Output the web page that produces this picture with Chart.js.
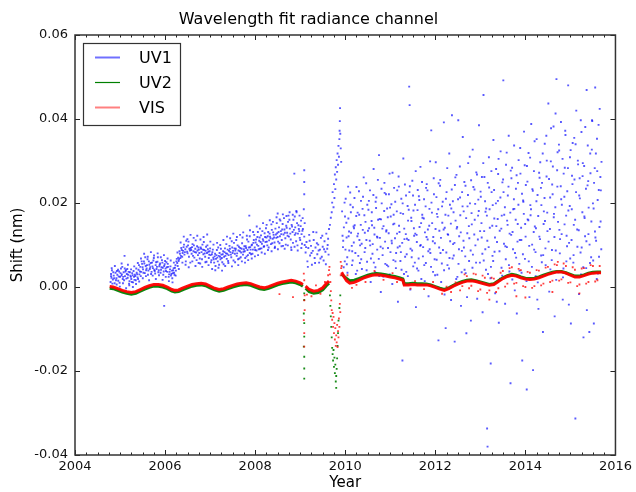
<!DOCTYPE html>
<html>
<head>
<meta charset="utf-8">
<script src="https://cdn.jsdelivr.net/npm/chart.js@4.4.1/dist/chart.umd.min.js"></script>
<style>
  html, body { margin: 0; padding: 0; background: #fff; }
  #wrap { width: 636px; height: 492px; }
</style>
</head>
<body>
<div id="wrap"><canvas id="chart" width="636" height="492"></canvas></div>
<script>
// Séries : [année, décalage (nm)]
const seriesNames = ['UV1', 'UV2', 'VIS'];
const xTicks = [2004, 2006, 2008, 2010, 2012, 2014, 2016];
const yTicks = [-0.04, -0.02, 0.00, 0.02, 0.04, 0.06];

const uv1Early = [
  [2004.79,0.0012],[2004.80,0.0031],[2004.81,0.0022],[2004.82,0.0040],[2004.84,0.0018],[2004.86,0.0027],[2004.88,0.0009],[2004.90,0.0034],
  [2004.92,0.0021],[2004.94,0.0029],[2004.96,0.0015],[2004.98,0.0037],[2005.00,0.0024],[2005.02,0.0044],[2005.04,0.0030],[2005.06,0.0019],
  [2005.08,0.0035],[2005.10,0.0074],[2005.11,0.0026],[2005.13,0.0040],[2005.15,0.0031],[2005.17,0.0022],[2005.19,0.0036],[2005.21,0.0014],
  [2005.23,0.0027],[2005.25,0.0019],[2005.27,0.0033],[2005.29,0.0011],[2005.31,0.0024],[2005.33,0.0029],[2005.35,0.0016],[2005.37,0.0034],
  [2005.39,0.0023],[2005.41,0.0041],[2005.43,0.0030],[2005.45,0.0048],[2005.47,0.0036],[2005.49,0.0055],[2005.51,0.0042],[2005.53,0.0061],
  [2005.55,0.0033],[2005.57,0.0050],[2005.59,0.0044],[2005.61,0.0066],[2005.63,0.0039],[2005.65,0.0053],[2005.67,0.0047],[2005.69,0.0031],
  [2005.71,0.0058],[2005.73,0.0045],[2005.75,0.0069],[2005.77,0.0038],[2005.79,0.0052],[2005.81,0.0043],[2005.83,0.0060],[2005.85,0.0035],
  [2005.87,0.0049],[2005.89,0.0056],[2005.91,0.0041],[2005.93,0.0064],[2005.95,0.0046],[2005.97,0.0037],[2005.98,-0.0045],[2005.99,0.0054],
  [2006.01,0.0044],[2006.03,0.0059],[2006.05,0.0036],[2006.07,0.0048],[2006.09,0.0030],[2006.11,0.0042],[2006.13,0.0027],[2006.15,0.0039],
  [2006.17,0.0033],[2006.19,0.0045],[2006.21,0.0029],[2006.23,0.0052],[2006.25,0.0061],[2006.27,0.0057],[2006.29,0.0070],[2006.31,0.0066],
  [2006.33,0.0079],[2006.35,0.0074],[2006.37,0.0088],[2006.39,0.0081],[2006.41,0.0095],[2006.43,0.0077],[2006.45,0.0090],[2006.47,0.0110],
  [2006.49,0.0084],[2006.51,0.0099],[2006.53,0.0072],[2006.55,0.0087],[2006.57,0.0093],[2006.59,0.0079],[2006.61,0.0102],[2006.63,0.0085],
  [2006.65,0.0070],[2006.67,0.0091],[2006.69,0.0082],[2006.71,0.0097],[2006.73,0.0076],[2006.75,0.0089],[2006.77,0.0068],[2006.79,0.0094],
  [2006.81,0.0083],[2006.83,0.0101],[2006.85,0.0078],[2006.87,0.0088],[2006.89,0.0072],[2006.91,0.0096],[2006.93,0.0081],[2006.95,0.0090],
  [2006.97,0.0069],[2006.99,0.0085],[2007.01,0.0076],[2007.03,0.0064],[2007.05,0.0083],[2007.07,0.0070],[2007.09,0.0058],[2007.11,0.0079],
  [2007.13,0.0067],[2007.15,0.0088],[2007.17,0.0061],[2007.19,0.0074],[2007.21,0.0081],[2007.23,0.0066],[2007.25,0.0077],[2007.27,0.0059],
  [2007.29,0.0085],[2007.31,0.0072],[2007.33,0.0092],[2007.35,0.0080],[2007.37,0.0067],[2007.39,0.0089],[2007.41,0.0076],[2007.43,0.0098],
  [2007.45,0.0083],[2007.47,0.0071],[2007.49,0.0094],[2007.51,0.0086],[2007.53,0.0105],[2007.55,0.0079],[2007.57,0.0091],[2007.59,0.0074],
  [2007.61,0.0099],[2007.63,0.0087],[2007.65,0.0068],[2007.67,0.0093],[2007.69,0.0082],[2007.71,0.0104],[2007.73,0.0077],[2007.75,0.0090],
  [2007.77,0.0085],[2007.79,0.0097],[2007.81,0.0073],[2007.83,0.0088],[2007.85,0.0108],[2007.87,0.0170],[2007.88,0.0081],[2007.89,0.0095],
  [2007.91,0.0078],[2007.93,0.0101],[2007.95,0.0089],[2007.97,0.0112],[2007.99,0.0094],[2008.01,0.0106],[2008.03,0.0087],[2008.05,0.0119],
  [2008.07,0.0098],[2008.09,0.0110],[2008.11,0.0091],[2008.13,0.0123],[2008.15,0.0103],[2008.17,0.0114],[2008.19,0.0096],[2008.21,0.0128],
  [2008.23,0.0107],[2008.25,0.0118],[2008.27,0.0099],[2008.29,0.0131],[2008.31,0.0111],[2008.33,0.0120],[2008.35,0.0102],[2008.37,0.0136],
  [2008.39,0.0115],[2008.41,0.0124],[2008.43,0.0106],[2008.45,0.0139],[2008.47,0.0117],[2008.49,0.0128],[2008.50,0.0175],[2008.51,0.0108],
  [2008.53,0.0142],[2008.55,0.0121],[2008.57,0.0133],[2008.59,0.0112],[2008.61,0.0150],[2008.63,0.0125],[2008.65,0.0137],[2008.67,0.0116],
  [2008.69,0.0146],[2008.71,0.0129],[2008.73,0.0155],[2008.75,0.0120],[2008.77,0.0139],[2008.79,0.0113],[2008.81,0.0148],[2008.83,0.0131],
  [2008.85,0.0160],[2008.87,0.0270],[2008.88,0.0124],[2008.89,0.0142],[2008.91,0.0109],[2008.93,0.0152],[2008.95,0.0127],[2008.97,0.0138],
  [2008.99,0.0117],[2009.01,0.0145],[2009.03,0.0126],[2009.05,0.0134]
];

const uv1EarlyB = [
  [2004.80,0.0026],[2004.83,0.0008],[2004.85,0.0035],[2004.87,0.0021],[2004.91,0.0016],[2004.93,0.0038],[2004.97,0.0025],[2004.99,0.0010],
  [2005.01,0.0033],[2005.03,0.0027],[2005.05,0.0048],[2005.07,0.0024],[2005.09,0.0016],[2005.12,0.0037],[2005.14,0.0020],[2005.16,0.0043],
  [2005.18,0.0029],[2005.20,0.0008],[2005.22,0.0035],[2005.24,0.0024],[2005.26,0.0012],[2005.28,0.0028],[2005.30,0.0038],[2005.32,0.0017],
  [2005.34,0.0026],[2005.36,0.0044],[2005.38,0.0030],[2005.40,0.0019],[2005.42,0.0052],[2005.44,0.0037],[2005.46,0.0026],[2005.48,0.0061],
  [2005.50,0.0047],[2005.52,0.0034],[2005.54,0.0056],[2005.56,0.0071],[2005.58,0.0040],[2005.60,0.0052],[2005.62,0.0029],[2005.64,0.0061],
  [2005.66,0.0043],[2005.68,0.0057],[2005.70,0.0036],[2005.72,0.0049],[2005.74,0.0063],[2005.76,0.0041],[2005.78,0.0032],[2005.80,0.0059],
  [2005.82,0.0048],[2005.84,0.0071],[2005.86,0.0040],[2005.88,0.0053],[2005.90,0.0034],[2005.92,0.0047],[2005.94,0.0058],[2005.96,0.0029],
  [2005.98,0.0050],[2006.00,0.0062],[2006.02,0.0038],[2006.04,0.0047],[2006.06,0.0055],[2006.08,0.0024],[2006.10,0.0036],[2006.12,0.0049],
  [2006.14,0.0031],[2006.16,0.0021],[2006.18,0.0040],[2006.20,0.0034],[2006.22,0.0046],[2006.24,0.0039],[2006.26,0.0067],[2006.28,0.0050],
  [2006.30,0.0062],[2006.32,0.0085],[2006.34,0.0069],[2006.36,0.0093],[2006.38,0.0072],[2006.40,0.0086],[2006.42,0.0101],[2006.44,0.0083],
  [2006.46,0.0061],[2006.48,0.0096],[2006.50,0.0080],[2006.52,0.0108],[2006.54,0.0091],[2006.56,0.0058],[2006.58,0.0088],[2006.60,0.0095],
  [2006.62,0.0074],[2006.64,0.0099],[2006.66,0.0083],[2006.68,0.0111],[2006.70,0.0064],[2006.72,0.0087],[2006.74,0.0094],[2006.76,0.0081],
  [2006.78,0.0056],[2006.80,0.0091],[2006.82,0.0066],[2006.84,0.0089],[2006.86,0.0107],[2006.88,0.0080],[2006.90,0.0086],[2006.92,0.0060],
  [2006.94,0.0099],[2006.96,0.0084],[2006.98,0.0077],[2007.00,0.0092],[2007.02,0.0059],[2007.04,0.0078],[2007.06,0.0089],[2007.08,0.0066],
  [2007.10,0.0073],[2007.12,0.0050],[2007.14,0.0076],[2007.16,0.0070],[2007.18,0.0094],[2007.20,0.0053],[2007.22,0.0072],[2007.24,0.0091],
  [2007.26,0.0069],[2007.28,0.0078],[2007.30,0.0054],[2007.32,0.0083],[2007.34,0.0074],[2007.36,0.0102],[2007.38,0.0079],[2007.40,0.0062],
  [2007.42,0.0086],[2007.44,0.0091],[2007.46,0.0077],[2007.48,0.0109],[2007.50,0.0081],[2007.52,0.0063],[2007.54,0.0092],[2007.56,0.0087],
  [2007.58,0.0112],[2007.60,0.0080],[2007.62,0.0066],[2007.64,0.0096],[2007.66,0.0085],[2007.68,0.0071],[2007.70,0.0091],[2007.72,0.0118],
  [2007.74,0.0084],[2007.76,0.0097],[2007.78,0.0069],[2007.80,0.0093],[2007.82,0.0113],[2007.84,0.0076],[2007.86,0.0094],[2007.88,0.0121],
  [2007.90,0.0089],[2007.92,0.0099],[2007.94,0.0079],[2007.96,0.0105],[2007.98,0.0124],[2008.00,0.0088],[2008.02,0.0113],[2008.04,0.0101],
  [2008.06,0.0131],[2008.08,0.0090],[2008.10,0.0118],[2008.12,0.0107],[2008.14,0.0092],[2008.16,0.0133],[2008.18,0.0110],[2008.20,0.0097],
  [2008.22,0.0119],[2008.24,0.0140],[2008.26,0.0108],[2008.28,0.0121],[2008.30,0.0094],[2008.32,0.0127],[2008.34,0.0116],[2008.36,0.0149],
  [2008.38,0.0104],[2008.40,0.0130],[2008.42,0.0118],[2008.44,0.0096],[2008.46,0.0125],[2008.48,0.0152],[2008.50,0.0119],[2008.52,0.0131],
  [2008.54,0.0104],[2008.56,0.0158],[2008.58,0.0126],[2008.60,0.0137],[2008.62,0.0098],[2008.64,0.0164],[2008.66,0.0129],[2008.68,0.0101],
  [2008.70,0.0141],[2008.72,0.0122],[2008.74,0.0170],[2008.76,0.0160],[2008.78,0.0127],[2008.80,0.0094],[2008.82,0.0144],[2008.84,0.0105],
  [2008.86,0.0136],[2008.88,0.0168],[2008.90,0.0128],[2008.92,0.0178],[2008.94,0.0099],[2008.96,0.0147],[2008.98,0.0133],[2009.00,0.0112],
  [2009.02,0.0158],[2009.04,0.0103],[2009.06,0.0138]
];

// bords du nuage UV1 avant 2009
const uv1EarlyC = [
  [2004.815,0.0045],[2004.845,-0.0002],[2004.885,0.0050],[2004.925,0.0006],[2004.955,0.0041],[2004.995,0.0001],[2005.035,0.0056],[2005.065,0.0009],
  [2005.105,0.0044],[2005.135,-0.0003],[2005.175,0.0053],[2005.205,0.0004],[2005.245,0.0042],[2005.285,0.0000],[2005.315,0.0049],[2005.355,0.0007],
  [2005.395,0.0057],[2005.425,0.0013],[2005.465,0.0068],[2005.505,0.0021],[2005.535,0.0079],[2005.575,0.0026],[2005.615,0.0072],[2005.645,0.0016],
  [2005.685,0.0083],[2005.725,0.0027],[2005.755,0.0075],[2005.795,0.0019],[2005.835,0.0080],[2005.865,0.0028],[2005.905,0.0071],[2005.945,0.0017],
  [2005.975,0.0076],[2006.015,0.0024],[2006.055,0.0068],[2006.085,0.0014],[2006.125,0.0063],[2006.165,0.0011],[2006.195,0.0058],[2006.235,0.0027],
  [2006.275,0.0082],[2006.305,0.0043],[2006.345,0.0106],[2006.385,0.0058],[2006.415,0.0120],[2006.455,0.0053],[2006.495,0.0114],[2006.525,0.0047],
  [2006.565,0.0124],[2006.605,0.0061],[2006.635,0.0117],[2006.675,0.0050],[2006.715,0.0122],[2006.745,0.0057],[2006.785,0.0113],[2006.825,0.0048],
  [2006.855,0.0119],[2006.895,0.0059],[2006.935,0.0125],[2006.965,0.0052],[2007.005,0.0108],[2007.045,0.0043],[2007.075,0.0101],[2007.115,0.0040],
  [2007.155,0.0105],[2007.185,0.0046],[2007.225,0.0100],[2007.265,0.0039],[2007.295,0.0112],[2007.335,0.0050],[2007.375,0.0120],[2007.405,0.0057],
  [2007.445,0.0116],[2007.485,0.0049],[2007.515,0.0127],[2007.555,0.0059],[2007.595,0.0119],[2007.625,0.0052],[2007.665,0.0124],[2007.705,0.0061],
  [2007.735,0.0130],[2007.775,0.0058],[2007.815,0.0122],[2007.845,0.0064],[2007.885,0.0135],[2007.925,0.0068],[2007.955,0.0131],[2007.995,0.0073],
  [2008.035,0.0144],[2008.065,0.0076],[2008.105,0.0139],[2008.145,0.0082],[2008.175,0.0152],[2008.215,0.0079],[2008.255,0.0148],[2008.285,0.0088],
  [2008.325,0.0159],[2008.365,0.0085],[2008.395,0.0155],[2008.435,0.0093],[2008.475,0.0166],[2008.505,0.0090],[2008.545,0.0161],[2008.585,0.0097],
  [2008.615,0.0173],[2008.655,0.0091],[2008.695,0.0169],[2008.725,0.0099],[2008.765,0.0178],[2008.805,0.0088],[2008.835,0.0172],[2008.875,0.0096],
  [2008.915,0.0181],[2008.945,0.0087],[2008.985,0.0170],[2009.025,0.0093],[2009.055,0.0164]
];

const uv1Spikes = [
  [2009.09,0.0278],[2009.09,0.0250],[2009.09,0.0221],[2009.08,0.0185],[2009.10,0.0152],[2009.09,0.0120],[2009.10,0.0100],
  [2009.12,0.0082],[2009.14,0.0107],[2009.16,0.0061],[2009.18,0.0093],[2009.20,0.0124],[2009.22,0.0075],[2009.24,0.0098],[2009.26,0.0053],
  [2009.28,0.0086],[2009.30,0.0112],[2009.32,0.0069],[2009.34,0.0094],[2009.36,0.0130],[2009.38,0.0078],[2009.40,0.0101],[2009.42,0.0058],
  [2009.44,0.0089],[2009.46,0.0117],[2009.48,0.0072],[2009.50,0.0096],[2009.52,0.0063],[2009.54,0.0109],[2009.56,0.0084],[2009.58,0.0127],
  [2009.60,0.0091],[2009.62,0.0115],[2009.64,0.0138],
  [2009.13,0.0095],[2009.17,0.0048],[2009.21,0.0110],[2009.25,0.0081],[2009.29,0.0131],[2009.33,0.0057],[2009.37,0.0104],[2009.41,0.0087],
  [2009.45,0.0068],[2009.49,0.0122],[2009.53,0.0090],[2009.57,0.0054],[2009.61,0.0100],[2009.63,0.0077],
  [2009.66,0.0148],[2009.68,0.0165],[2009.70,0.0178],[2009.71,0.0201],[2009.72,0.0226],[2009.74,0.0190],[2009.75,0.0245],[2009.76,0.0212],
  [2009.77,0.0268],[2009.78,0.0233],[2009.79,0.0285],[2009.80,0.0256],[2009.81,0.0302],[2009.82,0.0274],[2009.83,0.0318],[2009.84,0.0291],
  [2009.85,0.0336],[2009.86,0.0310],[2009.87,0.0352],[2009.875,0.0372],[2009.88,0.0395],[2009.885,0.0426],[2009.89,0.0365],[2009.90,0.0330],
  [2009.91,0.0298]
];

const uv1Late = [
  [2009.93,0.0180],[2009.95,0.0095],[2009.97,0.0142],[2009.99,0.0061],[2010.01,0.0210],[2010.03,0.0118],[2010.05,0.0034],[2010.07,0.0163],
  [2010.09,0.0087],[2010.11,0.0225],[2010.13,0.0129],[2010.15,0.0052],[2010.17,0.0190],[2010.19,0.0106],[2010.21,0.0147],[2010.23,0.0016],
  [2010.25,0.0238],[2010.27,0.0121],[2010.29,0.0074],[2010.31,0.0172],[2010.33,0.0099],[2010.35,0.0205],[2010.37,0.0043],[2010.39,0.0136],
  [2010.41,0.0261],[2010.43,0.0083],[2010.45,0.0155],[2010.47,0.0112],[2010.49,0.0196],[2010.51,0.0028],[2010.53,0.0140],[2010.55,0.0230],
  [2010.57,0.0068],[2010.59,0.0178],[2010.61,0.0102],[2010.63,0.0281],[2010.65,0.0125],[2010.67,0.0047],[2010.69,0.0213],[2010.71,0.0089],
  [2010.73,0.0160],[2010.75,0.0314],[2010.77,0.0117],[2010.79,-0.0012],[2010.81,0.0199],[2010.83,0.0076],[2010.85,0.0145],[2010.87,0.0248],
  [2010.89,0.0055],[2010.91,0.0132],[2010.93,0.0187],[2010.95,0.0093],[2010.97,0.0221],[2010.99,0.0030],[2011.01,0.0168],[2011.03,0.0110],
  [2011.05,0.0272],[2011.07,0.0064],[2011.09,0.0151],[2011.11,0.0203],[2011.13,0.0081],[2011.15,0.0127],[2011.17,-0.0035],[2011.19,0.0239],
  [2011.21,0.0097],[2011.23,0.0176],[2011.25,0.0041],[2011.27,-0.0175],[2011.29,0.0306],[2011.31,0.0139],[2011.33,0.0072],[2011.35,0.0218],
  [2011.37,0.0115],[2011.39,0.0026],[2011.41,0.0184],[2011.42,0.0477],[2011.43,0.0433],[2011.45,0.0091],[2011.47,0.0157],[2011.49,0.0253],
  [2011.51,0.0049],[2011.53,0.0122],[2011.55,0.0196],[2011.57,-0.0048],[2011.59,0.0107],[2011.61,0.0231],[2011.63,0.0068],[2011.65,0.0143],
  [2011.67,0.0286],[2011.69,0.0019],[2011.71,0.0172],[2011.73,0.0095],[2011.75,0.0209],[2011.77,0.0130],[2011.79,0.0057],[2011.81,0.0245],
  [2011.83,0.0113],[2011.85,-0.0022],[2011.87,0.0186],[2011.89,0.0081],[2011.91,0.0373],[2011.93,0.0152],[2011.95,0.0036],[2011.97,0.0221],
  [2011.99,0.0104],[2012.01,0.0297],[2012.03,0.0065],[2012.05,0.0167],[2012.07,-0.0127],[2012.09,0.0134],[2012.11,0.0255],[2012.13,0.0012],
  [2012.15,0.0192],[2012.17,0.0088],[2012.19,0.0392],[2012.21,0.0141],[2012.23,-0.0098],[2012.25,0.0226],[2012.27,0.0052],[2012.29,0.0170],
  [2012.31,0.0318],[2012.33,0.0109],[2012.35,-0.0031],[2012.37,0.0409],[2012.39,0.0204],[2012.41,0.0075],[2012.43,-0.0130],[2012.45,0.0158],
  [2012.47,0.0267],[2012.49,0.0024],[2012.51,0.0397],[2012.53,0.0121],[2012.55,0.0213],[2012.57,-0.0045],[2012.59,0.0086],[2012.61,0.0357],
  [2012.63,0.0180],[2012.65,0.0041],[2012.67,0.0241],[2012.69,-0.0110],[2012.71,0.0128],[2012.73,0.0295],[2012.75,0.0062],[2012.77,0.0199],
  [2012.79,-0.0080],[2012.81,0.0149],[2012.83,0.0327],[2012.85,0.0015],[2012.87,0.0232],[2012.89,0.0099],[2012.91,0.0273],[2012.93,-0.0028],
  [2012.95,0.0170],[2012.97,0.0385],[2012.99,0.0058],[2013.01,0.0215],[2013.03,0.0118],[2013.05,-0.0060],[2013.07,0.0457],[2013.09,0.0262],
  [2013.11,0.0090],[2013.13,0.0187],[2013.15,-0.0337],[2013.16,-0.0380],[2013.17,0.0031],[2013.19,0.0309],[2013.21,0.0141],[2013.23,-0.0182],
  [2013.25,0.0226],[2013.27,0.0074],[2013.29,0.0350],[2013.31,0.0163],[2013.33,-0.0015],[2013.35,0.0281],[2013.37,0.0107],[2013.39,0.0205],
  [2013.41,-0.0085],[2013.43,0.0134],[2013.45,0.0323],[2013.47,0.0046],[2013.49,0.0249],[2013.51,0.0492],[2013.53,0.0172],[2013.55,-0.0040],
  [2013.57,0.0291],[2013.59,0.0095],[2013.61,0.0218],[2013.63,0.0360],[2013.65,0.0127],[2013.67,-0.0229],[2013.69,0.0259],[2013.71,0.0018],
  [2013.73,0.0185],[2013.75,0.0337],[2013.77,0.0081],[2013.79,0.0234],[2013.81,-0.0063],[2013.83,0.0150],[2013.85,0.0302],[2013.87,0.0039],
  [2013.89,0.0270],[2013.91,0.0112],[2013.93,-0.0175],[2013.95,0.0206],[2013.97,0.0370],[2013.99,0.0067],[2014.01,0.0243],[2014.03,-0.0244],
  [2014.05,0.0161],[2014.07,0.0319],[2014.09,-0.0024],[2014.11,0.0195],[2014.13,0.0388],[2014.15,0.0101],[2014.17,-0.0198],[2014.19,0.0276],
  [2014.21,0.0144],[2014.23,0.0026],[2014.25,0.0352],[2014.27,0.0219],[2014.29,-0.0052],[2014.31,0.0120],[2014.33,0.0297],[2014.35,0.0075],
  [2014.37,0.0248],[2014.39,-0.0107],[2014.41,0.0180],[2014.43,0.0341],[2014.45,0.0052],[2014.47,0.0263],[2014.49,0.0133],[2014.51,0.0437],
  [2014.53,-0.0011],[2014.55,0.0213],[2014.57,0.0378],[2014.59,0.0088],[2014.61,0.0287],[2014.63,0.0166],[2014.65,-0.0070],[2014.67,0.0413],
  [2014.69,0.0495],[2014.71,0.0239],[2014.73,0.0035],[2014.75,0.0325],[2014.77,0.0114],[2014.79,0.0393],[2014.81,0.0196],[2014.83,-0.0030],
  [2014.85,0.0270],[2014.87,0.0149],[2014.89,0.0362],[2014.91,0.0061],[2014.93,0.0228],[2014.95,0.0480],[2014.97,0.0105],[2014.99,0.0309],
  [2015.01,-0.0087],[2015.03,0.0185],[2015.05,0.0343],[2015.07,0.0076],[2015.09,0.0256],[2015.11,-0.0313],[2015.13,0.0420],[2015.15,0.0137],
  [2015.17,0.0292],[2015.19,-0.0017],[2015.21,0.0211],[2015.23,0.0397],[2015.25,0.0094],[2015.27,0.0264],[2015.29,-0.0120],[2015.31,0.0168],
  [2015.33,0.0381],[2015.35,0.0045],[2015.36,0.0469],[2015.38,0.0242],[2015.40,0.0126],[2015.42,-0.0107],[2015.44,0.0318],[2015.46,0.0071],
  [2015.48,0.0397],[2015.50,0.0199],[2015.52,-0.0087],[2015.54,0.0283],[2015.55,0.0475],[2015.57,0.0110],[2015.59,0.0353],[2015.61,0.0032],
  [2015.63,0.0231],[2015.65,0.0424],[2015.67,0.0156],[2015.69,0.0298]
];

const uv1LateB = [
  [2009.94,0.0122],[2009.965,0.0047],[2009.985,0.0201],[2010.005,0.0089],[2010.025,0.0153],[2010.045,0.0071],[2010.065,0.0239],[2010.085,0.0132],
  [2010.105,0.0015],[2010.125,0.0178],[2010.145,0.0098],[2010.165,0.0063],[2010.185,0.0144],[2010.205,0.0212],[2010.225,0.0081],[2010.245,0.0169],
  [2010.265,0.0039],[2010.285,0.0127],[2010.305,0.0228],[2010.325,0.0057],[2010.345,0.0148],[2010.365,0.0103],[2010.385,0.0186],[2010.405,0.0022],
  [2010.425,0.0171],[2010.445,0.0093],[2010.465,0.0247],[2010.485,0.0060],[2010.505,0.0134],[2010.525,0.0205],[2010.545,0.0110],[2010.565,0.0012],
  [2010.585,0.0157],[2010.605,0.0079],[2010.625,0.0219],[2010.645,0.0141],[2010.665,0.0035],[2010.685,0.0188],[2010.705,0.0120],[2010.725,0.0255],
  [2010.745,0.0067],[2010.765,0.0162],[2010.785,0.0096],[2010.805,0.0234],[2010.825,0.0139],[2010.845,0.0025],[2010.865,0.0181],[2010.885,0.0108],
  [2010.905,0.0221],[2010.925,0.0052],[2010.945,0.0166],[2010.965,0.0128],[2010.985,0.0270],[2011.005,0.0083],[2011.025,0.0197],[2011.045,0.0007],
  [2011.065,0.0149],[2011.085,0.0236],[2011.105,0.0116],[2011.125,0.0045],[2011.145,0.0180],[2011.165,0.0094],[2011.185,0.0263],[2011.205,0.0131],
  [2011.225,0.0062],[2011.245,0.0210],[2011.265,0.0105],[2011.285,0.0174],[2011.305,0.0031],[2011.325,0.0244],[2011.345,0.0126],[2011.365,0.0078],
  [2011.385,0.0193],[2011.405,0.0112],[2011.425,0.0226],[2011.445,-0.0006],[2011.465,0.0165],[2011.485,0.0087],[2011.505,0.0218],[2011.525,0.0140],
  [2011.545,0.0058],[2011.565,0.0276],[2011.585,0.0124],[2011.605,0.0183],[2011.625,0.0039],[2011.645,0.0207],[2011.665,0.0098],[2011.685,0.0152],
  [2011.705,0.0250],[2011.725,0.0073],[2011.745,0.0163],[2011.765,0.0014],[2011.785,0.0192],[2011.805,0.0119],[2011.825,0.0230],[2011.845,0.0085],
  [2011.865,0.0146],[2011.885,0.0299],[2011.905,0.0048],[2011.925,0.0177],[2011.945,0.0109],[2011.965,0.0259],[2011.985,0.0066],[2012.005,0.0138],
  [2012.025,0.0214],[2012.045,0.0029],[2012.065,0.0185],[2012.085,0.0094],[2012.105,0.0241],[2012.125,0.0117],[2012.145,0.0056],[2012.165,0.0203],
  [2012.185,0.0137],[2012.205,-0.0018],[2012.225,0.0172],[2012.245,0.0082],[2012.265,0.0283],[2012.285,0.0124],[2012.305,0.0044],[2012.325,0.0196],
  [2012.345,0.0151],[2012.365,0.0232],[2012.385,0.0068],[2012.405,0.0178],[2012.425,0.0105],[2012.445,0.0261],[2012.465,0.0019],[2012.485,0.0143],
  [2012.505,0.0209],[2012.525,0.0090],[2012.545,0.0287],[2012.565,0.0130],[2012.585,0.0035],[2012.605,0.0192],[2012.625,0.0110],[2012.645,0.0250],
  [2012.665,0.0073],[2012.685,0.0164],[2012.705,-0.0024],[2012.725,0.0219],[2012.745,0.0145],[2012.765,0.0310],[2012.785,0.0087],[2012.805,0.0176],
  [2012.825,0.0046],[2012.845,0.0238],[2012.865,0.0125],[2012.885,0.0198],[2012.905,0.0058],[2012.925,0.0268],[2012.945,0.0113],[2012.965,0.0181],
  [2012.985,0.0010],[2013.005,0.0227],[2013.025,0.0152],[2013.045,0.0079],[2013.065,0.0295],[2013.085,0.0133],[2013.105,0.0204],[2013.125,0.0041],
  [2013.145,0.0170],[2013.165,0.0248],[2013.185,0.0095],[2013.205,0.0185],[2013.225,0.0021],[2013.245,0.0276],[2013.265,0.0146],[2013.285,0.0062],
  [2013.305,0.0231],[2013.325,0.0118],[2013.345,0.0199],[2013.365,-0.0035],[2013.385,0.0162],[2013.405,0.0305],[2013.425,0.0085],[2013.445,0.0213],
  [2013.465,0.0139],[2013.485,0.0027],[2013.505,0.0256],[2013.525,0.0103],[2013.545,0.0190],[2013.565,0.0066],[2013.585,0.0320],[2013.605,0.0148],
  [2013.625,0.0239],[2013.645,0.0037],[2013.665,0.0177],[2013.685,0.0124],[2013.705,0.0284],[2013.725,0.0090],[2013.745,0.0209],[2013.765,-0.0008],
  [2013.785,0.0160],[2013.805,0.0266],[2013.825,0.0108],[2013.845,0.0196],[2013.865,0.0055],[2013.885,0.0331],[2013.905,0.0141],[2013.925,0.0222],
  [2013.945,0.0078],[2013.965,0.0174],[2013.985,0.0290],[2014.005,0.0120],[2014.025,0.0014],[2014.045,0.0251],[2014.065,0.0159],[2014.085,0.0098],
  [2014.105,0.0308],[2014.125,0.0185],[2014.145,0.0048],[2014.165,0.0229],[2014.185,0.0131],[2014.205,0.0347],[2014.225,0.0083],[2014.245,0.0204],
  [2014.265,-0.0030],[2014.285,0.0169],[2014.305,0.0272],[2014.325,0.0114],[2014.345,0.0236],[2014.365,0.0059],[2014.385,0.0318],[2014.405,0.0150],
  [2014.425,0.0212],[2014.445,0.0092],[2014.465,0.0360],[2014.485,0.0177],[2014.505,0.0031],[2014.525,0.0257],[2014.545,0.0138],[2014.565,0.0299],
  [2014.585,0.0064],[2014.605,0.0221],[2014.625,0.0382],[2014.645,0.0119],[2014.665,0.0190],[2014.685,0.0017],[2014.705,0.0278],[2014.725,0.0155],
  [2014.745,0.0339],[2014.765,0.0080],[2014.785,0.0240],[2014.805,0.0126],[2014.825,0.0305],[2014.845,0.0044],[2014.865,0.0215],[2014.885,0.0372],
  [2014.905,0.0170],[2014.925,0.0097],[2014.945,0.0283],[2014.965,-0.0042],[2014.985,0.0193],[2015.005,0.0326],[2015.025,0.0112],[2015.045,0.0245],
  [2015.065,0.0058],[2015.085,0.0355],[2015.105,0.0160],[2015.125,0.0226],[2015.145,0.0024],[2015.165,0.0301],[2015.185,0.0135],[2015.205,0.0259],
  [2015.225,0.0082],[2015.245,0.0369],[2015.265,0.0178],[2015.285,0.0047],[2015.305,0.0288],[2015.325,0.0121],[2015.345,0.0234],[2015.365,-0.0055],
  [2015.385,0.0337],[2015.405,0.0189],[2015.425,0.0101],[2015.445,0.0271],[2015.465,0.0156],[2015.485,0.0395],[2015.505,0.0063],[2015.525,0.0248],
  [2015.545,0.0132],[2015.565,0.0318],[2015.585,0.0019],[2015.605,0.0207],[2015.625,0.0386],[2015.645,0.0143],[2015.665,0.0262],[2015.685,0.0090]
];

// coeur dense du nuage UV1 après 2010
const uv1LateC = [
  [2009.955,0.0110],[2009.995,0.0168],[2010.035,0.0054],[2010.075,0.0121],[2010.115,0.0196],[2010.155,0.0085],[2010.195,0.0140],[2010.235,0.0031],
  [2010.275,0.0177],[2010.315,0.0112],[2010.355,0.0066],[2010.395,0.0215],[2010.435,0.0129],[2010.475,0.0040],[2010.515,0.0184],[2010.555,0.0099],
  [2010.595,0.0147],[2010.635,0.0058],[2010.675,0.0203],[2010.715,0.0118],[2010.755,0.0026],[2010.795,0.0161],[2010.835,0.0092],[2010.875,0.0224],
  [2010.915,0.0135],[2010.955,0.0049],[2010.995,0.0189],[2011.035,0.0104],[2011.075,0.0172],[2011.115,0.0061],[2011.155,0.0230],[2011.195,0.0146],
  [2011.235,0.0083],[2011.275,0.0199],[2011.315,0.0114],[2011.355,0.0036],[2011.395,0.0158],[2011.435,0.0240],[2011.475,0.0071],[2011.515,0.0182],
  [2011.555,0.0127],[2011.595,0.0044],[2011.635,0.0216],[2011.675,0.0100],[2011.715,0.0165],[2011.755,0.0052],[2011.795,0.0236],[2011.835,0.0137],
  [2011.875,0.0090],[2011.915,0.0201],[2011.955,0.0119],[2011.995,0.0028],[2012.035,0.0174],[2012.075,0.0247],[2012.115,0.0081],[2012.155,0.0153],
  [2012.195,0.0040],[2012.235,0.0210],[2012.275,0.0126],[2012.315,0.0069],[2012.355,0.0187],[2012.395,0.0102],[2012.435,0.0243],[2012.475,0.0139],
  [2012.515,0.0055],[2012.555,0.0171],[2012.595,0.0226],[2012.635,0.0094],[2012.675,0.0033],[2012.715,0.0192],[2012.755,0.0116],[2012.795,0.0254],
  [2012.835,0.0077],[2012.875,0.0160],[2012.915,0.0013],[2012.955,0.0208],[2012.995,0.0133],[2013.035,0.0262],[2013.075,0.0063],[2013.115,0.0179],
  [2013.155,0.0110],[2013.195,0.0237],[2013.235,0.0048],[2013.275,0.0195],[2013.315,0.0084],[2013.355,0.0145],[2013.395,0.0269],[2013.435,0.0020],
  [2013.475,0.0170],[2013.515,0.0226],[2013.555,0.0097],[2013.595,0.0158],[2013.635,0.0052],[2013.675,0.0277],[2013.715,0.0131],[2013.755,0.0186],
  [2013.795,0.0070],[2013.835,0.0248],[2013.875,0.0112],[2013.915,0.0034],[2013.955,0.0203],[2013.995,0.0150],[2014.035,0.0288],[2014.075,0.0061],
  [2014.115,0.0171],[2014.155,0.0233],[2014.195,0.0089],[2014.235,0.0140],[2014.275,0.0011],[2014.315,0.0260],[2014.355,0.0195],[2014.395,0.0076],
  [2014.435,0.0157],[2014.475,0.0301],[2014.515,0.0108],[2014.555,0.0042],[2014.595,0.0244],[2014.635,0.0174],[2014.675,0.0087],[2014.715,0.0321],
  [2014.755,0.0136],[2014.795,0.0209],[2014.835,0.0023],[2014.875,0.0284],[2014.915,0.0122],[2014.955,0.0182],[2014.995,0.0068],[2015.035,0.0265],
  [2015.075,0.0148],[2015.115,0.0340],[2015.155,0.0096],[2015.195,0.0218],[2015.235,0.0030],[2015.275,0.0295],[2015.315,0.0164],[2015.355,0.0109],
  [2015.395,0.0252],[2015.435,0.0057],[2015.475,0.0327],[2015.515,0.0187],[2015.555,0.0118],[2015.595,0.0276],[2015.635,0.0072],[2015.675,0.0230]
];

// bande UV2 (null = trou aux pics)
const uv2Band = [
  [2004.77,-0.0003],[2004.85,-0.0004],[2004.95,-0.0008],[2005.05,-0.0012],[2005.15,-0.0015],[2005.25,-0.0017],[2005.35,-0.0015],[2005.45,-0.0010],
  [2005.55,-0.0005],[2005.65,-0.0001],[2005.75,0.0002],[2005.85,0.0002],[2005.95,0.0000],[2006.05,-0.0004],[2006.15,-0.0010],[2006.22,-0.0012],
  [2006.30,-0.0011],[2006.40,-0.0006],[2006.50,-0.0002],[2006.60,0.0002],[2006.70,0.0004],[2006.80,0.0005],[2006.90,0.0003],[2007.00,-0.0002],
  [2007.10,-0.0007],[2007.20,-0.0010],[2007.30,-0.0008],[2007.40,-0.0004],[2007.50,0.0000],[2007.60,0.0003],[2007.70,0.0005],[2007.80,0.0006],
  [2007.90,0.0004],[2008.00,0.0000],[2008.10,-0.0004],[2008.20,-0.0006],[2008.30,-0.0003],[2008.40,0.0001],[2008.50,0.0005],[2008.60,0.0008],
  [2008.70,0.0010],[2008.80,0.0012],[2008.90,0.0010],[2009.00,0.0006],[2009.06,0.0002],[2009.09,null],
  [2009.12,-0.0003],[2009.20,-0.0011],[2009.30,-0.0015],[2009.40,-0.0013],[2009.50,-0.0007],[2009.58,0.0003],[2009.64,0.0009],[2009.66,null],
  [2009.92,0.0030],[2009.97,0.0026],[2010.03,0.0020],[2010.10,0.0015],[2010.20,0.0016],[2010.30,0.0020],[2010.40,0.0024],[2010.50,0.0028],
  [2010.60,0.0031],[2010.70,0.0032],[2010.80,0.0031],[2010.90,0.0029],[2011.00,0.0027],[2011.10,0.0025],[2011.20,0.0022],[2011.28,0.0019],
  [2011.31,0.0008],[2011.40,0.0008],[2011.50,0.0009],[2011.60,0.0008],[2011.70,0.0008],[2011.80,0.0007],[2011.90,0.0005],[2012.00,0.0001],
  [2012.10,-0.0003],[2012.20,-0.0006],[2012.30,-0.0002],[2012.40,0.0004],[2012.50,0.0009],[2012.60,0.0013],[2012.70,0.0016],[2012.80,0.0017],
  [2012.90,0.0015],[2013.00,0.0012],[2013.10,0.0009],[2013.20,0.0006],[2013.30,0.0008],[2013.40,0.0015],[2013.50,0.0022],[2013.60,0.0027],
  [2013.70,0.0030],[2013.80,0.0028],[2013.90,0.0024],[2014.00,0.0021],[2014.10,0.0020],[2014.20,0.0021],[2014.30,0.0024],[2014.40,0.0028],
  [2014.50,0.0032],[2014.60,0.0035],[2014.70,0.0037],[2014.80,0.0037],[2014.90,0.0034],[2015.00,0.0030],[2015.10,0.0026],[2015.20,0.0026],
  [2015.30,0.0029],[2015.40,0.0033],[2015.50,0.0035],[2015.60,0.0036],[2015.68,0.0036]
];

const uv2Spikes = [
  [2009.09,-0.0015],[2009.09,-0.0031],[2009.08,-0.0063],[2009.09,-0.0086],[2009.09,-0.0118],[2009.08,-0.0142],[2009.09,-0.0166],[2009.09,-0.0194],
  [2009.09,-0.0218],
  [2009.66,-0.0020],[2009.67,-0.0045],[2009.68,-0.0070],[2009.69,-0.0095],[2009.70,-0.0120],[2009.71,-0.0145],[2009.72,-0.0160],[2009.73,-0.0175],
  [2009.74,-0.0150],[2009.75,-0.0190],[2009.76,-0.0168],[2009.77,-0.0205],[2009.78,-0.0185],[2009.79,-0.0225],[2009.80,-0.0240],[2009.80,-0.0212],
  [2009.81,-0.0195],[2009.82,-0.0170],[2009.83,-0.0140],[2009.84,-0.0110],[2009.85,-0.0080],[2009.87,-0.0050],[2009.89,-0.0020]
];

const visBand = [
  [2004.77,0.0001],[2004.85,0.0000],[2004.95,-0.0004],[2005.05,-0.0008],[2005.15,-0.0011],[2005.25,-0.0013],[2005.35,-0.0011],[2005.45,-0.0006],
  [2005.55,-0.0001],[2005.65,0.0003],[2005.75,0.0006],[2005.85,0.0006],[2005.95,0.0004],[2006.05,0.0000],[2006.15,-0.0006],[2006.22,-0.0008],
  [2006.30,-0.0007],[2006.40,-0.0002],[2006.50,0.0002],[2006.60,0.0006],[2006.70,0.0008],[2006.80,0.0009],[2006.90,0.0007],[2007.00,0.0002],
  [2007.10,-0.0003],[2007.20,-0.0006],[2007.30,-0.0004],[2007.40,0.0000],[2007.50,0.0004],[2007.60,0.0007],[2007.70,0.0009],[2007.80,0.0010],
  [2007.90,0.0008],[2008.00,0.0004],[2008.10,0.0000],[2008.20,-0.0002],[2008.30,0.0001],[2008.40,0.0005],[2008.50,0.0009],[2008.60,0.0012],
  [2008.70,0.0014],[2008.80,0.0016],[2008.90,0.0014],[2009.00,0.0010],[2009.06,0.0006],[2009.09,null],
  [2009.12,0.0002],[2009.20,-0.0006],[2009.30,-0.0010],[2009.40,-0.0008],[2009.50,-0.0002],[2009.58,0.0008],[2009.64,0.0014],[2009.66,null],
  [2009.92,0.0035],[2009.97,0.0025],[2010.03,0.0015],[2010.10,0.0009],[2010.20,0.0011],[2010.30,0.0016],[2010.40,0.0021],[2010.50,0.0025],
  [2010.60,0.0028],[2010.70,0.0029],[2010.80,0.0028],[2010.90,0.0026],[2011.00,0.0024],[2011.10,0.0022],[2011.20,0.0019],[2011.28,0.0016],
  [2011.31,0.0005],[2011.40,0.0005],[2011.50,0.0006],[2011.60,0.0005],[2011.70,0.0005],[2011.80,0.0005],[2011.90,0.0003],[2012.00,-0.0001],
  [2012.10,-0.0005],[2012.20,-0.0008],[2012.30,-0.0004],[2012.40,0.0002],[2012.50,0.0007],[2012.60,0.0011],[2012.70,0.0014],[2012.80,0.0015],
  [2012.90,0.0013],[2013.00,0.0010],[2013.10,0.0007],[2013.20,0.0004],[2013.30,0.0006],[2013.40,0.0013],[2013.50,0.0020],[2013.60,0.0025],
  [2013.70,0.0028],[2013.80,0.0026],[2013.90,0.0022],[2014.00,0.0019],[2014.10,0.0018],[2014.20,0.0019],[2014.30,0.0022],[2014.40,0.0026],
  [2014.50,0.0030],[2014.60,0.0033],[2014.70,0.0036],[2014.80,0.0036],[2014.90,0.0033],[2015.00,0.0028],[2015.10,0.0024],[2015.20,0.0024],
  [2015.30,0.0027],[2015.40,0.0031],[2015.50,0.0033],[2015.60,0.0034],[2015.68,0.0034]
];

const visScatter = [
  [2008.54,-0.0017],[2008.84,-0.0024],
  [2009.08,0.0032],[2009.09,0.0016],[2009.09,-0.0032],[2009.08,-0.0079],[2009.09,-0.0110],[2009.09,-0.0142],[2009.10,-0.0055],[2009.10,-0.0020],
  [2009.15,-0.0018],[2009.25,-0.0022],[2009.35,0.0004],[2009.45,-0.0016],[2009.55,0.0012],[2009.62,0.0028],[2009.64,0.0040],
  [2009.65,0.0048],[2009.66,0.0030],[2009.67,0.0012],[2009.68,-0.0010],[2009.69,-0.0032],[2009.70,-0.0055],[2009.71,-0.0078],[2009.72,-0.0062],
  [2009.73,-0.0095],[2009.74,-0.0071],[2009.75,-0.0110],[2009.76,-0.0086],[2009.77,-0.0125],[2009.78,-0.0098],[2009.79,-0.0140],[2009.80,-0.0115],
  [2009.81,-0.0132],[2009.82,-0.0090],[2009.83,-0.0143],[2009.84,-0.0105],[2009.85,-0.0120],[2009.86,-0.0075],[2009.87,-0.0095],[2009.88,-0.0040],
  [2009.89,-0.0060],[2009.90,0.0060],[2009.91,0.0045],[2009.90,0.0028],[2009.92,0.0050],
  [2010.05,0.0028],[2010.15,-0.0002],[2010.25,0.0005],[2010.45,0.0012],[2010.65,0.0038],[2010.85,0.0017],[2011.05,0.0033],[2011.15,0.0012],
  [2011.45,-0.0004],[2011.55,0.0014],[2011.75,-0.0005],[2011.95,0.0012],[2012.15,-0.0016],[2012.25,0.0001],[2012.35,-0.0012],[2012.45,0.0011],
  [2012.55,-0.0008],[2012.60,0.0002],[2012.65,0.0030],[2012.70,0.0026],[2012.75,-0.0003],[2012.80,0.0003],[2012.85,0.0032],[2012.90,0.0030],
  [2012.95,-0.0010],[2013.00,-0.0006],[2013.05,0.0027],[2013.10,0.0022],[2013.15,-0.0014],[2013.20,-0.0008],[2013.20,-0.0030],[2013.25,0.0022],
  [2013.30,0.0020],[2013.35,-0.0012],[2013.40,-0.0003],[2013.45,0.0034],[2013.50,0.0038],[2013.55,0.0001],[2013.60,0.0008],[2013.65,0.0045],
  [2013.70,0.0047],[2013.75,0.0008],[2013.80,0.0010],[2013.80,-0.0022],[2013.85,0.0043],[2013.90,0.0040],[2013.95,0.0002],[2014.00,0.0000],
  [2014.00,-0.0025],[2014.05,0.0036],[2014.10,0.0034],[2014.15,-0.0002],[2014.20,0.0002],[2014.25,0.0040],[2014.30,0.0039],[2014.35,0.0004],
  [2014.40,0.0008],[2014.45,0.0046],[2014.50,0.0048],[2014.55,0.0012],[2014.60,0.0015],[2014.60,-0.0012],[2014.65,0.0054],[2014.70,0.0052],
  [2014.72,0.0060],[2014.75,0.0015],[2014.80,0.0018],[2014.85,0.0056],[2014.90,0.0050],[2014.95,0.0010],[2015.00,0.0011],[2015.05,0.0047],
  [2015.10,0.0041],[2015.15,0.0002],[2015.20,0.0006],[2015.20,-0.0015],[2015.25,0.0044],[2015.30,0.0045],[2015.35,0.0008],[2015.40,0.0012],
  [2015.45,0.0052],[2015.50,0.0050],[2015.55,0.0013],[2015.60,0.0016],[2015.65,0.0050]
];

const FONT = 'DejaVu Sans';
const legendColors = ['#7070ff', '#008000', '#ff8080'];

// cadre + graduations vers l'intérieur (style matplotlib)
const framePlugin = {
  id: 'frame',
  afterDatasetsDraw(chart) {
    const { ctx, chartArea: a, scales: { x, y } } = chart;
    ctx.save();
    ctx.strokeStyle = '#222';
    ctx.lineWidth = 1;
    ctx.beginPath();
    for (let v = 2004; v <= 2016.001; v += 0.25) {
      const px = Math.round(x.getPixelForValue(v)) + 0.5;
      const len = Math.abs(v / 2 - Math.round(v / 2)) < 1e-6 ? 5 : 2.5;
      ctx.moveTo(px, a.bottom); ctx.lineTo(px, a.bottom - len);
      ctx.moveTo(px, a.top); ctx.lineTo(px, a.top + len);
    }
    yTicks.forEach(v => {
      const py = Math.round(y.getPixelForValue(v)) + 0.5;
      ctx.moveTo(a.left, py); ctx.lineTo(a.left + 5, py);
      ctx.moveTo(a.right, py); ctx.lineTo(a.right - 5, py);
    });
    ctx.stroke();
    ctx.lineWidth = 1.5;
    ctx.strokeStyle = '#333';
    ctx.strokeRect(a.left, a.top, a.right - a.left, a.bottom - a.top);
    ctx.restore();
  },
  afterDraw(chart) {
    const { ctx, chartArea: a } = chart;
    const bx = a.left + 8, by = a.top + 8, bw = 97, bh = 82;
    ctx.save();
    ctx.fillStyle = '#fff';
    ctx.fillRect(bx, by, bw, bh);
    ctx.strokeStyle = '#333';
    ctx.lineWidth = 1.2;
    ctx.strokeRect(bx + 0.5, by + 0.5, bw, bh);
    ctx.font = `16px "${FONT}"`;
    ctx.textBaseline = 'middle';
    seriesNames.forEach((name, i) => {
      const ly = by + 14.5 + i * 25;
      ctx.strokeStyle = legendColors[i];
      ctx.lineWidth = i === 1 ? 1.2 : 2;
      ctx.beginPath();
      ctx.moveTo(bx + 12, ly); ctx.lineTo(bx + 37, ly);
      ctx.stroke();
      ctx.fillStyle = '#000';
      ctx.fillText(name, bx + 56, ly + 1);
    });
    ctx.restore();
  }
};

const dotStyle = (color, r) => ({
  showLine: false, pointStyle: 'rect', pointRadius: r, pointHoverRadius: r,
  pointBorderWidth: 0, pointBackgroundColor: color, pointBorderColor: color
});
const bandStyle = (color, w) => ({
  showLine: true, spanGaps: false, pointRadius: 0, borderColor: color, borderWidth: w
});

new Chart(document.getElementById('chart').getContext('2d'), {
  type: 'scatter',
  data: {
    datasets: [
      { label: 'VIS', data: visBand, order: 1, ...bandStyle('rgba(255,0,0,0.95)', 3) },
      { label: 'VIS', data: visScatter, order: 1, ...dotStyle('rgba(255,0,0,0.75)', 1.3) },
      { label: 'UV2', data: uv2Band, order: 2, ...bandStyle('rgba(0,128,0,0.95)', 3) },
      { label: 'UV2', data: uv2Spikes, order: 2, ...dotStyle('rgba(0,128,0,0.9)', 1.3) },
      { label: 'UV1', data: uv1Early.concat(uv1EarlyB, uv1EarlyC, uv1Spikes, uv1Late, uv1LateB, uv1LateC), order: 3,
        ...dotStyle('rgba(0,0,255,0.65)', 1.35) }
    ]
  },
  options: {
    responsive: false,
    animation: false,
    devicePixelRatio: 1,
    layout: { padding: { left: 0, right: 19, top: 0, bottom: 0 } },
    plugins: {
      legend: { display: false },
      tooltip: { enabled: false },
      title: {
        display: true,
        text: 'Wavelength fit radiance channel',
        color: '#000',
        font: { family: FONT, size: 16, weight: 'normal' },
        padding: { top: 10, bottom: 5.8 }
      }
    },
    scales: {
      x: {
        type: 'linear', min: 2004, max: 2016,
        afterFit: s => { s.height = 37; },
        afterBuildTicks: s => { s.ticks = xTicks.map(v => ({ value: v })); },
        grid: { display: false, drawTicks: false },
        border: { display: false },
        ticks: { color: '#111', padding: 4, maxRotation: 0, font: { family: FONT, size: 13 }, callback: v => String(v) },
        title: { display: true, text: 'Year', color: '#000', font: { family: FONT, size: 15 }, padding: { top: 0, bottom: 0 } }
      },
      y: {
        type: 'linear', min: -0.04, max: 0.06,
        afterFit: s => { s.width = 75; },
        afterBuildTicks: s => { s.ticks = yTicks.map(v => ({ value: v })); },
        grid: { display: false, drawTicks: false },
        border: { display: false },
        ticks: { color: '#111', padding: 7, font: { family: FONT, size: 13 }, callback: v => (Math.abs(v) < 1e-9 ? 0 : v).toFixed(2) },
        title: { display: true, text: 'Shift (nm)', color: '#000', font: { family: FONT, size: 15 }, padding: { top: 9, bottom: 0 } }
      }
    }
  },
  plugins: [framePlugin]
});
</script>
</body>
</html>
